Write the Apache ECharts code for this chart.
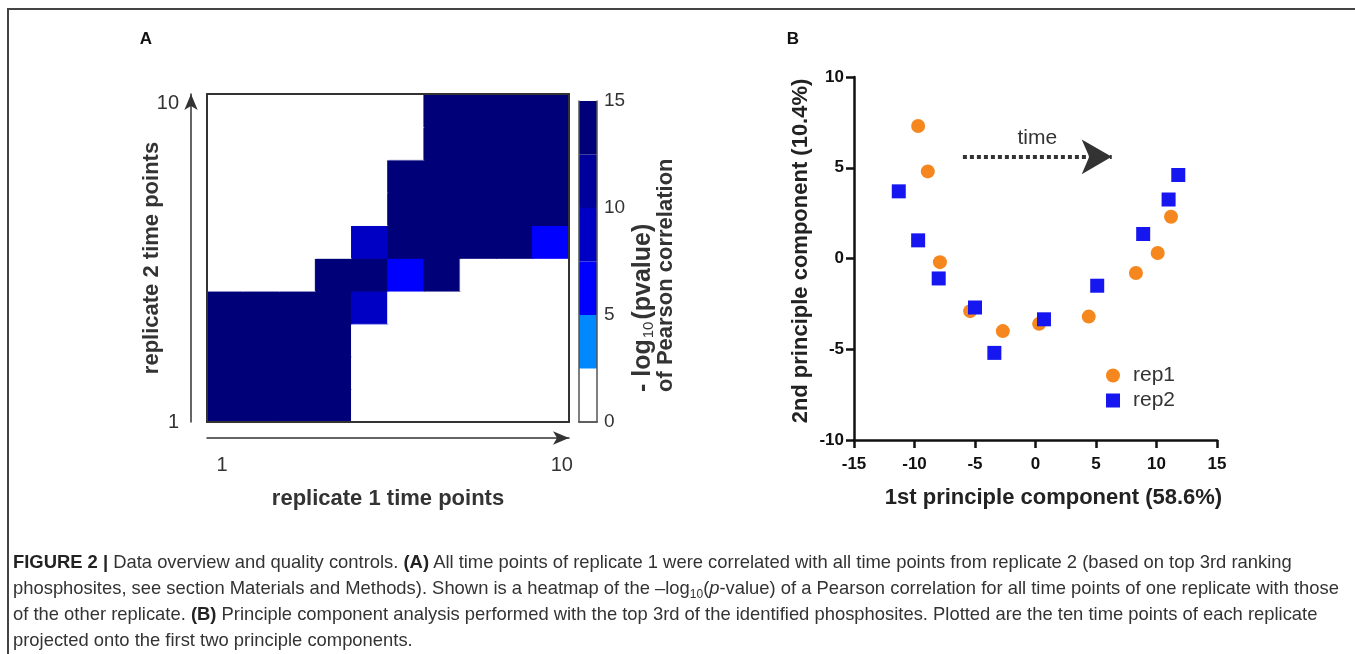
<!DOCTYPE html>
<html><head><meta charset="utf-8">
<script src="https://cdn.jsdelivr.net/npm/echarts@6/dist/echarts.min.js"></script>
<style>
html,body{margin:0;padding:0;background:#fff;width:1355px;height:654px;overflow:hidden;font-family:"Liberation Sans",Arial,sans-serif;}
#frame{position:absolute;left:7px;top:8px;width:1400px;height:700px;border-left:2px solid #444;border-top:2px solid #444;}
#chart{position:absolute;left:0;top:0;width:1355px;height:654px;}
#caption{position:absolute;left:13px;top:549px;font-size:18.4px;line-height:26px;color:#333;white-space:nowrap;}
#caption b{color:#222;}
#caption sub{font-size:12px;line-height:0;vertical-align:-4px;}
</style></head>
<body>
<div id="frame"></div>
<div id="chart"></div>
<div id="caption"><b>FIGURE 2 |</b> Data overview and quality controls. <b>(A)</b> All time points of replicate 1 were correlated with all time points from replicate 2 (based on top 3rd ranking<br>phosphosites, see section Materials and Methods). Shown is a heatmap of the –log<sub>10</sub>(<i>p</i>-value) of a Pearson correlation for all time points of one replicate with those<br>of the other replicate. <b>(B)</b> Principle component analysis performed with the top 3rd of the identified phosphosites. Plotted are the ten time points of each replicate<br>projected onto the first two principle components.</div>
<script>
// ---- Panel A: heatmap data ----
const timeLabels = ['1','2','3','4','5','6','7','8','9','10'];
// heatValues[r][c]: replicate 2 time point r+1 (rows, bottom to top) vs replicate 1 time point c+1
const heatValues = [
  [15,15,15,15, 1, 1, 1, 1, 1, 1],
  [15,15,15,15, 1, 1, 1, 1, 1, 1],
  [15,15,15,15, 1, 1, 1, 1, 1, 1],
  [15,15,15,15, 9, 1, 1, 1, 1, 1],
  [ 1, 1, 1,15,15, 6,15, 1, 1, 1],
  [ 1, 1, 1, 1, 9,15,15,15,15, 6],
  [ 1, 1, 1, 1, 1,15,15,15,15,15],
  [ 1, 1, 1, 1, 1,15,15,15,15,15],
  [ 1, 1, 1, 1, 1, 1,15,15,15,15],
  [ 1, 1, 1, 1, 1, 1,15,15,15,15]
];
const binEdges = [0, 2.5, 5, 7.5, 10, 12.5, 15];
const binColors = ['#ffffff', '#0088ff', '#0000ff', '#0000c4', '#00009c', '#000078'];
const colorbarTicks = [0, 5, 10, 15];
const arrowAxisLabels = [1, 10];

// ---- Panel B: PCA scatter ----
const rep1X = [-9.7, -8.9, -7.9, -5.4, -2.7, 0.3, 4.4, 8.3, 10.1, 11.2];
const rep1Y = [7.3, 4.8, -0.2, -2.9, -4.0, -3.6, -3.2, -0.8, 0.3, 2.3];
const rep2X = [-11.3, -9.7, -8.0, -5.0, -3.4, 0.7, 5.1, 8.9, 11.0, 11.8];
const rep2Y = [3.7, 1.0, -1.1, -2.7, -5.2, -3.35, -1.5, 1.35, 3.25, 4.6];
const timeArrowX = [-6.0, 6.3];
const timeArrowY = 5.6;

function binColor(v) {
  for (let i = 0; i < binColors.length; i++) if (v >= binEdges[i] && v <= binEdges[i + 1]) return binColors[i];
  return binColors[binColors.length - 1];
}
const heatData = [];
heatValues.forEach((row, r) => row.forEach((v, c) => heatData.push({
  value: [c, r, v], itemStyle: {borderColor: binColor(v), borderWidth: 1}
})));

const frameLine = {show: true, lineStyle: {color: '#333', width: 2}};
const noTickLab = {axisTick: {show: false}, axisLabel: {show: false}, splitLine: {show: false}};
const arrowLine = {show: true, onZero: false, symbol: ['none', 'arrow'], symbolSize: [10, 16], lineStyle: {color: '#333', width: 1.5}};
const fontF = '"Liberation Sans", Arial, sans-serif';

const chart = echarts.init(document.getElementById('chart'), null, {renderer: 'canvas'});
const colorbarSeries = binColors.map((col, i) => ({
  type: 'bar', xAxisIndex: 3, yAxisIndex: 3, stack: 'cb', barWidth: '100%', silent: true,
  itemStyle: {color: col, borderColor: col, borderWidth: 1}, data: [binEdges[i + 1] - binEdges[i]]
}));

chart.setOption({
  animation: false,
  textStyle: {fontFamily: fontF},
  grid: [
    {left: 207, top: 94, width: 362, height: 328},
    {left: 579, top: 101, width: 18, height: 321},
    {left: 854, top: 77, width: 363, height: 363}
  ],
  xAxis: [
    Object.assign({gridIndex: 0, type: 'category', data: timeLabels, position: 'bottom', axisLine: frameLine, z: 10}, noTickLab),
    {gridIndex: 0, type: 'value', min: 0.6, max: 10.19, position: 'bottom', offset: 16, axisLine: arrowLine,
     axisTick: {show: false}, splitLine: {show: false},
     axisLabel: {customValues: arrowAxisLabels, fontSize: 20, color: '#333', margin: 17},
     name: 'replicate 1 time points', nameLocation: 'middle', nameGap: 50, nameMoveOverlap: false,
     nameTextStyle: {fontSize: 22, fontWeight: 'bold', color: '#333'}},
    Object.assign({gridIndex: 0, type: 'category', data: timeLabels, position: 'top', axisLine: frameLine, z: 10}, noTickLab),
    Object.assign({gridIndex: 1, type: 'category', data: ['cb'], position: 'bottom', axisLine: {show: true, lineStyle: {color: '#555', width: 1.5}}, z: 10}, noTickLab),
    Object.assign({gridIndex: 1, type: 'category', data: ['cb'], position: 'top', axisLine: {show: true, lineStyle: {color: '#555', width: 1.5}}, z: 10}, noTickLab),
    {gridIndex: 2, type: 'value', min: -15, max: 15, interval: 5,
     axisLine: {show: true, onZero: false, lineStyle: {color: '#111', width: 2.5}},
     axisTick: {show: true, length: 8, lineStyle: {color: '#111', width: 2.5}},
     axisLabel: {fontSize: 17, fontWeight: 'bold', color: '#111', margin: 16},
     splitLine: {show: false},
     name: '1st principle component (58.6%)', nameLocation: 'middle', nameGap: 47, nameMoveOverlap: false,
     nameTextStyle: {fontSize: 22, fontWeight: 'bold', color: '#222', padding: [0, 0, 0, 36]}}
  ],
  yAxis: [
    Object.assign({gridIndex: 0, type: 'category', data: timeLabels, position: 'left', axisLine: frameLine, z: 10}, noTickLab),
    {gridIndex: 0, type: 'value', min: 1, max: 10.28, position: 'left', offset: 16, axisLine: arrowLine,
     axisTick: {show: false}, splitLine: {show: false},
     axisLabel: {customValues: arrowAxisLabels, fontSize: 20, color: '#333', margin: 12},
     name: 'replicate 2 time points', nameLocation: 'middle', nameRotate: 90, nameGap: 28, nameMoveOverlap: false,
     nameTextStyle: {fontSize: 22, fontWeight: 'bold', color: '#333'}},
    Object.assign({gridIndex: 0, type: 'category', data: timeLabels, position: 'right', axisLine: frameLine, z: 10}, noTickLab),
    {gridIndex: 1, type: 'value', min: 0, max: 15, interval: 5, position: 'right',
     axisLine: {show: true, lineStyle: {color: '#555', width: 1.5}}, axisTick: {show: false}, splitLine: {show: false},
     axisLabel: {fontSize: 19, color: '#333', margin: 7}, z: 10},
    Object.assign({gridIndex: 1, type: 'value', min: 0, max: 15, position: 'left', axisLine: {show: true, lineStyle: {color: '#555', width: 1.5}}, z: 10}, noTickLab),
    {gridIndex: 2, type: 'value', min: -10, max: 10, interval: 5,
     axisLine: {show: true, onZero: false, lineStyle: {color: '#111', width: 2.5}},
     axisTick: {show: true, length: 8, lineStyle: {color: '#111', width: 2.5}},
     axisLabel: {fontSize: 17, fontWeight: 'bold', color: '#111', margin: 10},
     splitLine: {show: false},
     name: '2nd principle component (10.4%)', nameLocation: 'middle', nameRotate: 90, nameGap: 42, nameMoveOverlap: false,
     nameTextStyle: {fontSize: 22, fontWeight: 'bold', color: '#222', padding: [0, 0, 0, 15]}}
  ],
  visualMap: {
    type: 'piecewise', show: false, seriesIndex: 0, dimension: 2,
    pieces: binColors.map((col, i) => ({min: binEdges[i], max: binEdges[i + 1], color: col}))
  },
  legend: {
    data: ['rep1', 'rep2'], orient: 'vertical', left: 1106, top: 365, padding: 0,
    itemWidth: 14, itemHeight: 14, itemGap: 4,
    textStyle: {fontSize: 21, color: '#333', padding: [0, 0, 0, 8]}
  },
  graphic: [
    {type: 'text', x: 146, y: 39, style: {text: 'A', font: 'bold 17px ' + fontF, fill: '#111', align: 'center', verticalAlign: 'middle'}},
    {type: 'text', x: 793, y: 39, style: {text: 'B', font: 'bold 17px ' + fontF, fill: '#111', align: 'center', verticalAlign: 'middle'}},
    {type: 'text', x: 643, y: 392, rotation: Math.PI / 2,
     style: {text: '{b|- log}{s|10}{b|(pvalue)}', align: 'left', verticalAlign: 'middle',
       rich: {b: {fontSize: 25, fontWeight: 'bold', fontFamily: fontF, fill: '#333', lineHeight: 26, verticalAlign: 'bottom'},
              s: {fontSize: 15, fontFamily: fontF, fill: '#333', lineHeight: 26, verticalAlign: 'bottom', padding: [6, 2, 0, 1]}}}},
    {type: 'text', x: 666, y: 392, rotation: Math.PI / 2,
     style: {text: 'of Pearson correlation', font: 'bold 22px ' + fontF, fill: '#333', align: 'left', verticalAlign: 'middle'}}
  ],
  series: [
    {type: 'heatmap', xAxisIndex: 0, yAxisIndex: 0, data: heatData, silent: true}
  ].concat(colorbarSeries, [
    {name: 'rep1', type: 'scatter', xAxisIndex: 5, yAxisIndex: 5, symbol: 'circle', symbolSize: 14,
     itemStyle: {color: '#f5871e', opacity: 1}, data: rep1X.map((x, i) => [x, rep1Y[i]]),
     markLine: {silent: true, symbol: ['none', 'arrow'], symbolSize: [26, 30],
       lineStyle: {type: [4, 3], width: 4, color: '#333'},
       label: {show: true, position: 'insideMiddleTop', formatter: 'time', fontSize: 21, color: '#333', distance: 8},
       data: [[{coord: [timeArrowX[0], timeArrowY]}, {coord: [timeArrowX[1], timeArrowY]}]]}},
    {name: 'rep2', type: 'scatter', xAxisIndex: 5, yAxisIndex: 5, symbol: 'rect', symbolSize: 14,
     itemStyle: {color: '#1616f0', opacity: 1}, data: rep2X.map((x, i) => [x, rep2Y[i]])}
  ])
});
</script>
</body></html>
